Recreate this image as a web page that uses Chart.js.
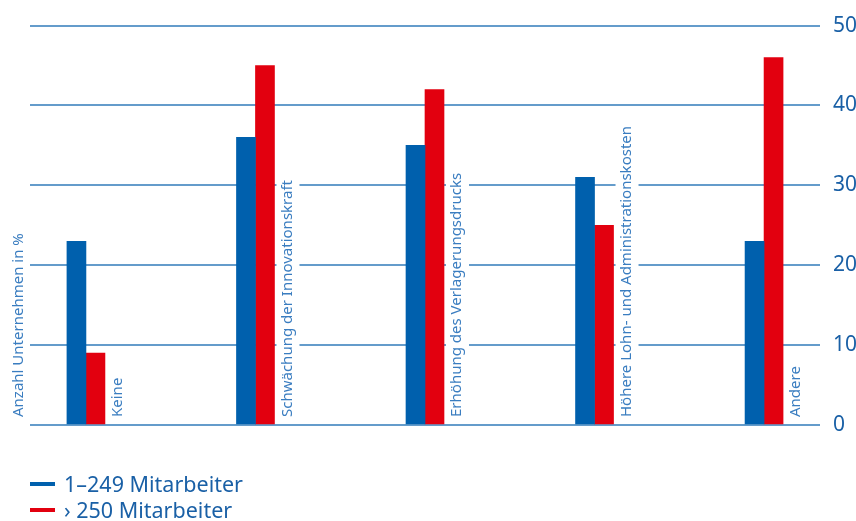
<!DOCTYPE html>
<html lang="de">
<head>
<meta charset="UTF-8">
<title>Auswirkungen nach Unternehmensgröße</title>
<script src="https://cdn.jsdelivr.net/npm/chart.js"></script>
<style>
  body { margin: 0; background: #fff; }
  #wrap { width: 856px; height: 521px; }
</style>
</head>
<body>
<div id="wrap"><canvas id="chart"></canvas></div>
<script>
// Daten
const categories = [
  'Keine',
  'Schwächung der Innovationskraft',
  'Erhöhung des Verlagerungsdrucks',
  'Höhere Lohn- und Administrationskosten',
  'Andere'
];
const seriesNames = ['1–249 Mitarbeiter', '› 250 Mitarbeiter'];
const smallFirms = [23, 36, 35, 31, 23];
const largeFirms = [9, 45, 42, 25, 46];
const yTicks = [0, 10, 20, 30, 40, 50];
const yTitle = 'Anzahl Unternehmen in %';

const BLUE = '#0060ad';
const RED = '#e2000f';
const TEXT_DARK = '#1a60a6';
const TEXT_LIGHT = '#3a7dc0';
const FONT = '"Noto Sans", "Open Sans", sans-serif';

// vertikale Beschriftungen, Achsentitel und Legende
const annotate = {
  id: 'annotate',
  afterDatasetsDraw(chart) {
    const { ctx, scales: { x, y } } = chart;
    const base = y.getPixelForValue(0) - 8;
    ctx.save();
    ctx.font = '15px ' + FONT;
    ctx.textAlign = 'left';
    ctx.textBaseline = 'middle';
    categories.forEach((label, i) => {
      const cx = x.getPixelForValue(i) + 32;
      const w = ctx.measureText(label).width;
      // weißer Hintergrund unterbricht die Gitterlinien
      ctx.fillStyle = '#fff';
      ctx.fillRect(cx - 11, base - w - 6, 23, w + 11);
      ctx.save();
      ctx.translate(cx, base);
      ctx.rotate(-Math.PI / 2);
      ctx.fillStyle = TEXT_LIGHT;
      ctx.fillText(label, 0, 0);
      ctx.restore();
    });

    // Achsentitel links
    ctx.save();
    ctx.translate(19, base);
    ctx.rotate(-Math.PI / 2);
    ctx.fillStyle = TEXT_LIGHT;
    ctx.fillText(yTitle, 0, 0);
    ctx.restore();

    // Legende
    ctx.font = '21.5px ' + FONT;
    ctx.textBaseline = 'alphabetic';
    chart.data.datasets.forEach((ds, i) => {
      const ly = 484 + i * 26;
      ctx.fillStyle = ds.backgroundColor;
      ctx.fillRect(30, ly - 2, 25, 4);
      ctx.fillStyle = TEXT_DARK;
      ctx.fillText(ds.label, 64, ly + 8);
    });
    ctx.restore();
  }
};

new Chart(document.getElementById('chart'), {
  type: 'bar',
  data: {
    datasets: [
      { label: seriesNames[0], data: smallFirms.map((v, i) => ({ x: i, y: v })), backgroundColor: BLUE },
      { label: seriesNames[1], data: largeFirms.map((v, i) => ({ x: i, y: v })), backgroundColor: RED }
    ]
  },
  options: {
    responsive: true,
    maintainAspectRatio: false,
    animation: false,
    barThickness: 19,
    layout: { padding: { left: 30, top: 23, bottom: 96, right: 0 } },
    plugins: {
      legend: { display: false },
      tooltip: { enabled: false }
    },
    scales: {
      x: {
        type: 'linear',
        display: false,
        offset: false,
        min: -0.33,
        max: 4.33
      },
      y: {
        position: 'right',
        min: 0,
        max: 50,
        afterBuildTicks: s => { s.ticks = yTicks.map(v => ({ value: v })); },
        afterFit: s => { s.width = 36; },
        border: { display: false },
        grid: { color: '#649ccb', lineWidth: 2, drawTicks: false },
        ticks: { color: TEXT_DARK, padding: 13, font: { family: FONT, size: 21 } }
      }
    }
  },
  plugins: [annotate]
});
</script>
</body>
</html>
